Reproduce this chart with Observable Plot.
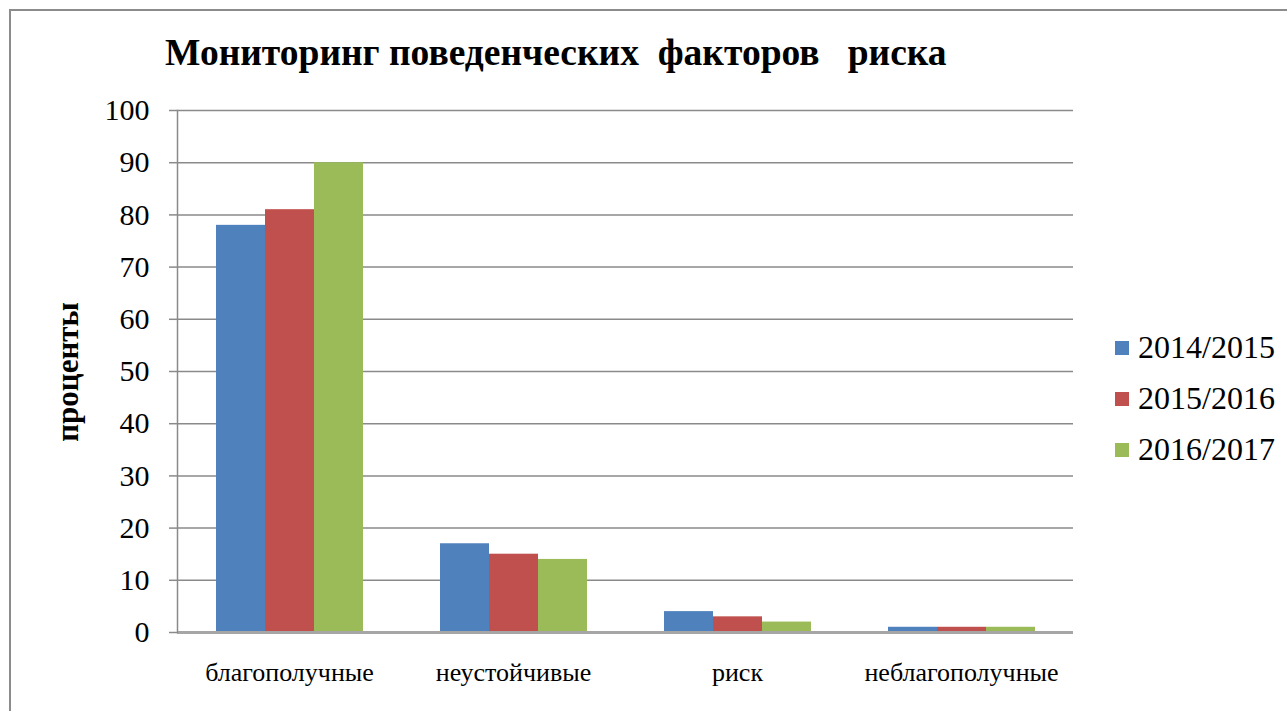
<!DOCTYPE html>
<html>
<head>
<meta charset="utf-8">
<script src="https://cdn.jsdelivr.net/npm/d3@7"></script>
<script src="https://cdn.jsdelivr.net/npm/@observablehq/plot@0.6"></script>
<style>
  html, body { margin: 0; padding: 0; background: #fff; }
  #wrap { position: relative; width: 1287px; height: 711px; overflow: hidden; font-family: "Liberation Serif", "Times New Roman", "DejaVu Serif", serif; }
  #border { position: absolute; left: 9px; top: 9px; right: -10px; bottom: -10px; border-left: 2px solid #8c8c8c; border-top: 2px solid #8c8c8c; }
  #title { position: absolute; left: 165px; top: 34px; font-size: 37.5px; font-weight: bold; white-space: pre; color: #000; line-height: 1; }
  #ylabel { position: absolute; left: 68px; top: 372px; transform: translate(-50%, -50%) rotate(-90deg); font-size: 31px; font-weight: bold; white-space: nowrap; color: #000; }
  #chart { position: absolute; left: 0; top: 0; }
  #legend { position: absolute; left: 1115px; top: 322px; font-size: 32px; color: #000; }
  .li { display: flex; align-items: center; height: 51px; }
  .sw { width: 14px; height: 14px; margin-right: 9px; }
</style>
</head>
<body>
<div id="wrap">
  <div id="border"></div>
  <div id="chart"></div>
  <div id="title"></div>
  <div id="ylabel"></div>
  <div id="legend"></div>
</div>
<script>
const titleText = "Мониторинг поведенческих  факторов   риска";
const yLabel = "проценты";
const categories = ["благополучные", "неустойчивые", "риск", "неблагополучные"];
const seriesNames = ["2014/2015", "2015/2016", "2016/2017"];
const values2014 = [78, 17, 4, 1];
const values2015 = [81, 15, 3, 1];
const values2016 = [90, 14, 2, 1];
const seriesColors = ["#4F81BD", "#C0504D", "#9BBB59"];
const yTicks = [0, 10, 20, 30, 40, 50, 60, 70, 80, 90, 100];

const seriesValues = [values2014, values2015, values2016];
const rows = [];
categories.forEach((c, i) => {
  seriesNames.forEach((s, j) => rows.push({cat: c, series: s, value: seriesValues[j][i]}));
});

document.getElementById("title").textContent = titleText;
document.getElementById("ylabel").textContent = yLabel;

const legend = document.getElementById("legend");
seriesNames.forEach((s, j) => {
  const li = document.createElement("div");
  li.className = "li";
  const sw = document.createElement("div");
  sw.className = "sw";
  sw.style.background = seriesColors[j];
  const t = document.createElement("span");
  t.textContent = s;
  li.appendChild(sw); li.appendChild(t);
  legend.appendChild(li);
});

const chart = Plot.plot({
  width: 1287,
  height: 711,
  marginLeft: 175,
  marginRight: 213,
  marginTop: 110,
  marginBottom: 79,
  style: {fontFamily: "'Liberation Serif', 'Times New Roman', 'DejaVu Serif', serif", background: "transparent", color: "#000"},
  fx: {domain: categories, padding: 0, label: null},
  x: {domain: seriesNames, paddingInner: 0, paddingOuter: 0.75, axis: null},
  y: {domain: [0, 100], label: null},
  color: {domain: seriesNames, range: seriesColors},
  marks: [
    Plot.gridY(yTicks, {stroke: "#8a8a8a", strokeOpacity: 1, strokeWidth: 1.5}),
    Plot.barY(rows, {fx: "cat", x: "series", y: "value", fill: "series"}),
    Plot.ruleY([0], {stroke: "#a6a6a6", strokeWidth: 3}),
    Plot.frame({anchor: "left", facetAnchor: "left", stroke: "#8a8a8a", strokeWidth: 1.5}),
    Plot.axisY(yTicks, {tickSize: 8, tickPadding: 20, fontSize: 30, stroke: "#8a8a8a", strokeWidth: 1.5, label: null, tickFormat: d => String(d), fill: "#000"}),
    Plot.axisFx({anchor: "bottom", tickSize: 0, tickPadding: 30, fontSize: 26, label: null, fill: "#000"})
  ]
});
document.getElementById("chart").appendChild(chart);
</script>
</body>
</html>
